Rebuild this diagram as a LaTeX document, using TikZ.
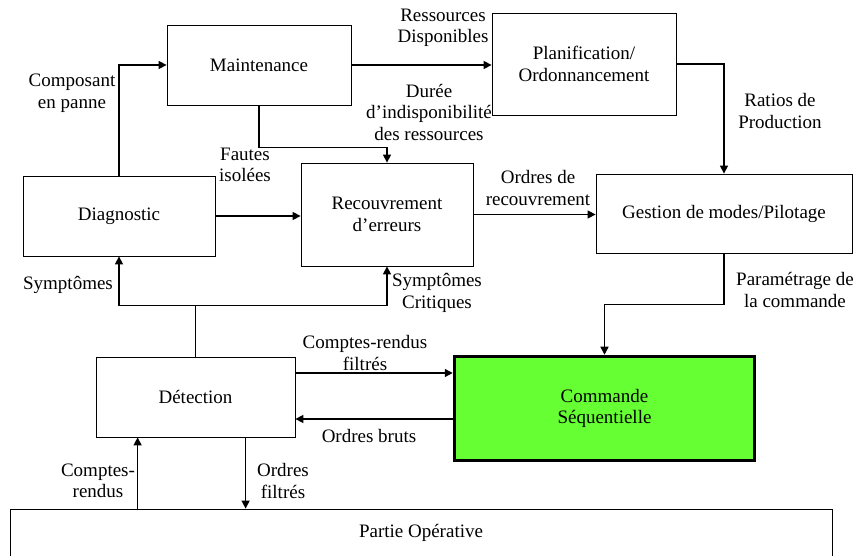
\documentclass[tikz,border=0pt]{standalone}
\usepackage{fontspec}
\setmainfont{Liberation Serif}
\usetikzlibrary{arrows.meta}
\definecolor{cmdgreen}{RGB}{102,255,51}
\begin{document}
\begin{tikzpicture}[x=1pt,y=-1pt,
  every node/.style={font=\fontsize{19}{21.5}\selectfont, align=center, inner sep=0pt},
  block/.style={draw, line width=0.8pt, fill=white},
  flow/.style={line width=1.4pt, -{Triangle[length=8pt,width=8pt]}},
  wire/.style={line width=1.4pt}]
\useasboundingbox (0,0) rectangle (855,556);

% blocks
\node[block, minimum width=184pt, minimum height=80pt] (maint) at (259,65) {Maintenance};
\node[block, minimum width=184pt, minimum height=102pt] (plan) at (584,64) {Planification/\\Ordonnancement};
\node[block, minimum width=192pt, minimum height=80pt] (diag) at (119,216) {Diagnostic};
\node[block, minimum width=172pt, minimum height=103pt] (recov) at (387,214.5) {Recouvrement\\d’erreurs};
\node[block, minimum width=256pt, minimum height=79pt] (gest) at (724,213.5) {Gestion de modes/Pilotage};
\node[block, minimum width=199pt, minimum height=80pt] (det) at (195.5,397) {Détection};
\node[draw, line width=3.5pt, fill=cmdgreen, minimum width=300pt, minimum height=104pt] (cmd) at (604.5,408.5) {Commande\\Séquentielle};
\node[block, minimum width=822pt, minimum height=47pt] (po) at (421,532.5) {Partie Opérative};

% connectors between blocks
\draw[flow] (diag.north) |- (maint.west);
\draw[flow] (maint.east) -- (maint.east -| plan.west);
\draw[flow] (maint.south) -- ++(0,42) -| (recov.north);
\draw[flow] (plan.east) -| (gest.north);
\draw[flow] (diag.east) -- (diag.east -| recov.west);
\draw[flow] (recov.east) -- (recov.east -| gest.west);

\draw[wire] (det.north) -- ++(0,-51) coordinate (split);
\draw[flow] (split) -| (diag.south);
\draw[flow] (split) -| (recov.south);

\draw[flow] (gest.south) -- ++(0,51) -| (cmd.north);

\coordinate (crf) at ([yshift=24pt]det.east);
\coordinate (obr) at ([yshift=-22pt]det.east);
\draw[flow] (crf) -- (crf -| cmd.west);
\draw[flow] (obr -| cmd.west) -- (obr);

\coordinate (crd) at ([xshift=42pt]det.south west);
\coordinate (orf) at ([xshift=150pt]det.south west);
\draw[flow] (crd |- po.north) -- (crd);
\draw[flow] (orf) -- (orf |- po.north);

% connector labels
\node (lcomp) at (72,93) {Composant\\en panne};
\node (lress) at (443,28) {Ressources\\Disponibles};
\node (ldur) at (429,112) {Durée\\d’indisponibilité\\des ressources};
\node (lfaut) at (245,165) {Fautes\\isolées};
\node (lordrec) at (538,188) {Ordres de\\recouvrement};
\node (lratio) at (780,111) {Ratios de\\Production};
\node (lsymp) at (68,285) {Symptômes};
\node (lsympc) at (437,293) {Symptômes\\Critiques};
\node (lparam) at (795,290) {Paramétrage de\\la commande};
\node (lcrf) at (365,353) {Comptes-rendus\\filtrés};
\node (lobr) at (369,436) {Ordres bruts};
\node (lcr) at (98,481) {Comptes-\\rendus};
\node (lorf) at (283,481) {Ordres\\filtrés};
\end{tikzpicture}
\end{document}
